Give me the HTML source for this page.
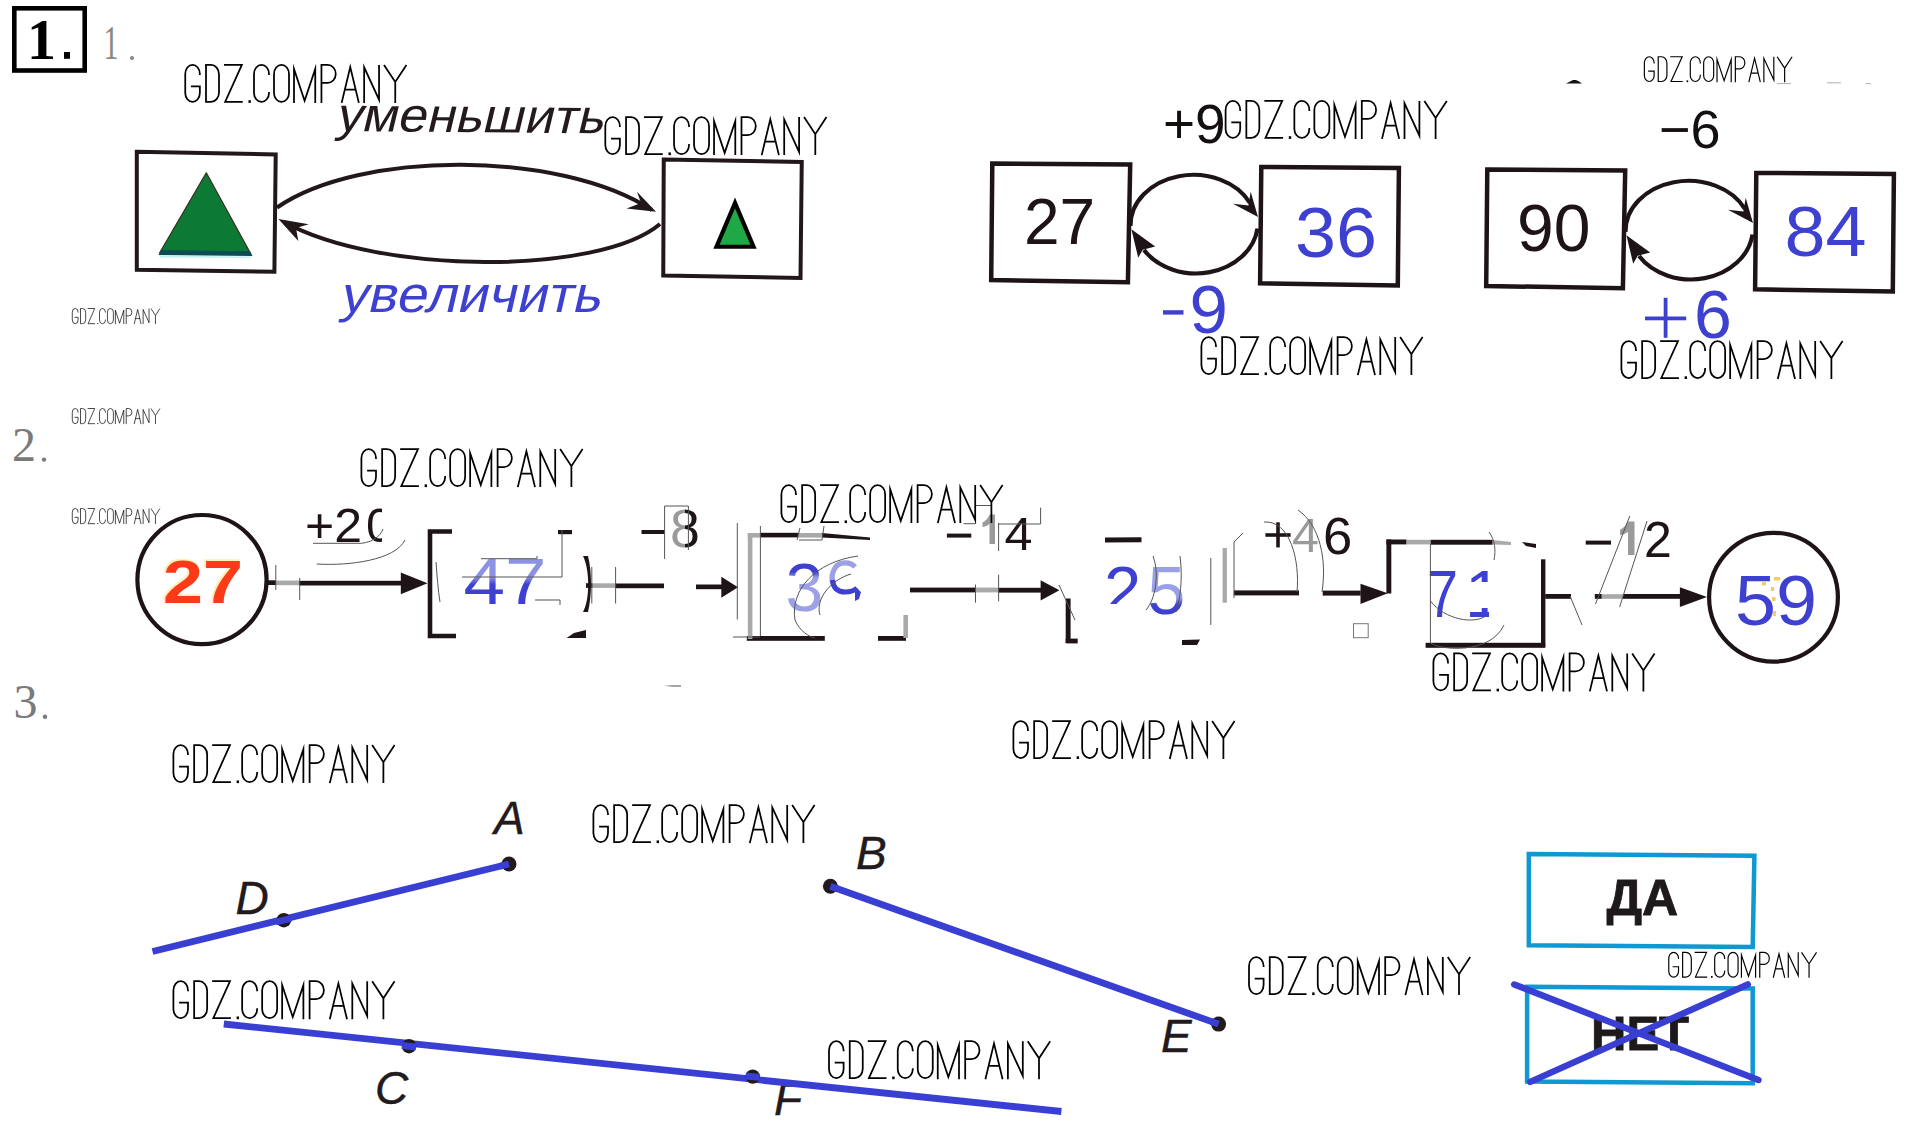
<!DOCTYPE html>
<html><head><meta charset="utf-8">
<style>
html,body{margin:0;padding:0;background:#fff;width:1919px;height:1144px;overflow:hidden}
svg{display:block}
svg{font-family:"Liberation Sans",sans-serif}
</style></head>
<body>
<svg width="1919" height="1144" viewBox="0 0 1919 1144">
<defs>
<g id="wm" fill="none" stroke="#000" stroke-width="1.75" stroke-linejoin="miter" stroke-miterlimit="8" stroke-linecap="butt">
<path d="M15.6,11 V10 A7.3,9 0 0 0 1,10 V29 A7.3,9 0 0 0 15.6,29 V22.5 H6.7"/>
<path d="M21.75,1 H26.75 A8,9.5 0 0 1 34.75,10.5 V28.5 A8,9.5 0 0 1 26.75,38 H21.75 Z"/>
<path d="M39.75,1 H57.6 L40.9,38 H58.5"/>
<rect x="64.2" y="36.3" width="2.4" height="2.7" fill="#000" stroke="none"/>
<path d="M84.75,11 V10 A7.5,9 0 0 0 69.75,10 V29 A7.5,9 0 0 0 84.75,29 V28"/>
<path d="M89.75,10 A7.5,9 0 0 1 104.75,10 V29 A7.5,9 0 0 1 89.75,29 Z"/>
<path d="M109.75,39 V5 L120.35,36.8 L131,5 V39"/>
<path d="M137.2,39 V1 H143.5 A8,9 0 0 1 151.5,10 V10 A8,9 0 0 1 143.5,19 H137.2"/>
<path d="M157.4,39 L166,3.2 L174.6,39 M160.3,25.6 H171.7"/>
<path d="M179.9,39 V3.4 L194.8,35.8 V1"/>
<path d="M199.75,1 L211,18.1 L222.2,1 M211,18.1 V39"/>
</g>
</defs>

<!-- header numbers -->
<rect x="14.3" y="8.3" width="70.4" height="62.2" fill="none" stroke="#000" stroke-width="4.6"/>
<text x="27" y="58.5" font-family="Liberation Serif" font-weight="bold" font-size="58" fill="#000">1</text><rect x="64" y="52" width="6" height="6.8" fill="#000"/>
<text x="103.5" y="59" font-family="Liberation Serif" font-size="48" fill="#888" textLength="15" lengthAdjust="spacingAndGlyphs">1</text><circle cx="132" cy="58" r="2.1" fill="#888"/>
<text x="12" y="461" font-family="Liberation Serif" font-size="48" fill="#7a7a7a">2</text><circle cx="44" cy="459.6" r="2.2" fill="#7a7a7a"/>
<text x="13.5" y="718" font-family="Liberation Serif" font-size="48" fill="#7a7a7a">3</text><circle cx="45" cy="716.8" r="2.2" fill="#7a7a7a"/>

<!-- section 1 left -->
<g fill="none" stroke="#22181a" stroke-width="4">
<path d="M136.8,151.8 L275.7,154.5 L274.4,271.7 L136.8,269.8 Z"/>
<path d="M663.75,159.5 L801.75,162 L800.5,278 L663.25,275.5 Z"/>
<path d="M277,207.5 C360,150 560,150 652,210" />
<path d="M660,224 C600,275 380,275 284,222" />
</g>
<path d="M656,211.7 L637,191.7 L641,203 L626.6,208.5 Z" fill="#22181a"/>
<path d="M278.4,219 L308.8,224.2 L296,228 L298.3,241 Z" fill="#22181a"/>
<path d="M206.3,172.8 L159.7,252.8 L250.9,254 Z" fill="#0c7a34" stroke="#3a2a20" stroke-width="1.2" stroke-linejoin="round"/>
<path d="M161,250 L250,251.2 L252.5,256 L158.5,255 Z" fill="#0b4d52"/><path d="M159,255.5 L252,256.5 L251,258 L160,257.5 Z" fill="#9be6f0" opacity="0.6"/>
<path d="M735,203 L716.5,246.75 L753.5,246.75 Z" fill="#1ea846" stroke="#000" stroke-width="4.2" stroke-linejoin="miter"/>
<g transform="translate(335,131) rotate(0.5) skewX(-13)"><text x="0" y="0" font-size="48" fill="#221a1c" textLength="268" lengthAdjust="spacingAndGlyphs">уменьшить</text></g>
<g transform="translate(339,312) skewX(-13)"><text x="0" y="0" font-size="51" fill="#3e40d0" textLength="261" lengthAdjust="spacingAndGlyphs">увеличить</text></g>


<!-- section 1 right -->
<g fill="none" stroke="#1e1418" stroke-width="4.5">
<path d="M992.3,163.5 L1130.2,164.5 L1127.9,282.2 L991.2,280 Z"/>
<path d="M1261.3,166.9 L1398.9,168 L1397.8,285.5 L1260.1,283.3 Z"/>
<path d="M1487.3,169.5 L1625.2,170.5 L1622.9,288.2 L1486.2,286 Z"/>
<path d="M1756.3,172.9 L1893.9,174 L1892.8,291.5 L1755.1,289.3 Z"/>
</g>
<g id="arcs">
<g fill="none" stroke="#1e1418" stroke-width="4.2">
<path d="M1130.5,226 A63,50.5 0 0 1 1250,203"/>
<path d="M1257.5,228.5 A62,51.5 0 0 1 1144,250"/>
</g>
<g fill="#1e1418">
<path d="M1258,217 L1250.7,191.8 L1248.4,205.5 L1233,203.75 Z"/>
<path d="M1131.4,229.3 L1155.2,246.4 L1142.7,249.8 L1138.2,257.7 Z"/>
</g>
</g>
<use href="#arcs" transform="translate(495,6)"/>
<text x="1024" y="244" font-size="64" fill="#1e1418">27</text>
<text x="1295" y="257" font-size="70" fill="#3e40d0" textLength="82" lengthAdjust="spacingAndGlyphs">36</text>
<text x="1517" y="251" font-size="66" fill="#1e1418">90</text>
<text x="1784.6" y="255.5" font-size="70" fill="#3e40d0" textLength="82" lengthAdjust="spacingAndGlyphs">84</text>
<text x="1163" y="143" font-size="55" fill="#151010">+9</text>
<rect x="1163" y="310.2" width="20.5" height="4.4" fill="#3e40d0"/><text x="1189.5" y="333" font-size="69" fill="#3e40d0">9</text>
<text x="1659" y="147.5" font-size="54" fill="#151010">−6</text>
<rect x="1645" y="316.5" width="41.2" height="3.8" fill="#3e40d0"/><rect x="1663.7" y="297.8" width="3.8" height="40" fill="#3e40d0"/><text x="1694" y="338" font-size="68" fill="#3e40d0">6</text>


<!-- section 2 -->
<defs>
<linearGradient id="g47" x1="0" y1="0" x2="0" y2="1">
<stop offset="0" stop-color="#9095e4"/><stop offset="0.45" stop-color="#8a90e2"/><stop offset="0.55" stop-color="#3e40d0"/><stop offset="1" stop-color="#3e40d0"/>
</linearGradient>
<linearGradient id="g5" x1="0" y1="0" x2="0" y2="1">
<stop offset="0" stop-color="#9aa0e6"/><stop offset="0.6" stop-color="#9aa0e6"/><stop offset="0.7" stop-color="#3e40d0"/><stop offset="1" stop-color="#3e40d0"/>
</linearGradient>
<clipPath id="c20"><rect x="300" y="495" width="82" height="60"/></clipPath>
<linearGradient id="g3" x1="0" y1="0" x2="0" y2="1"><stop offset="0" stop-color="#3e40d0"/><stop offset="0.3" stop-color="#3e40d0"/><stop offset="0.38" stop-color="#9ca0e4"/><stop offset="0.9" stop-color="#9ca0e4"/><stop offset="0.95" stop-color="#3e40d0"/></linearGradient>
</defs>
<circle cx="202" cy="579.6" r="64.6" fill="none" stroke="#1e1418" stroke-width="4.2"/>
<text x="162" y="602.3" font-weight="bold" font-size="61.5" fill="#ffd860" stroke="#ffd860" stroke-width="1.5" textLength="80" lengthAdjust="spacingAndGlyphs" opacity="0.45">27</text><text x="163" y="603.3" font-weight="bold" font-size="61.5" fill="#fa3a18" textLength="80" lengthAdjust="spacingAndGlyphs">27</text>
<circle cx="1773.5" cy="597.2" r="64.4" fill="none" stroke="#1e1418" stroke-width="4.2"/>
<text x="1735" y="624.5" font-size="69.5" fill="#3e40d0" textLength="82" lengthAdjust="spacingAndGlyphs">59</text>
<g fill="#1e1418">
<!-- arrow 1 -->
<rect x="267" y="580.3" width="9" height="4.7"/>
<rect x="299" y="580.8" width="103" height="4.7"/>
<path d="M400.8,572.5 L427.5,583.3 L400.8,594.2 Z"/>
<!-- box 47 -->
<path d="M452,529.3 H427.7 V638.2 H456 V633.8 H432.3 V533.7 H452 Z"/>
<rect x="558" y="530" width="14" height="4.2"/>
<path d="M583,556 C590,570 590,600 583,612 L588,612 C592,595 592,572 588,556 Z"/>
<path d="M566.6,638 L586,638 L586,630 L574,633 Z"/>
<!-- arrow 2 -->
<rect x="586" y="583.2" width="6.6" height="4.7"/>
<rect x="615" y="583.5" width="49" height="4.7"/>
<rect x="696" y="584.5" width="26" height="4.7"/>
<path d="M721.3,576.8 L738,587.2 L721.3,597.8 Z"/>
<!-- box 39 -->
<rect x="760" y="532.8" width="38.5" height="4.6"/>
<path d="M822,533 L870,537.5 L870,540 L822,537.6 Z"/>
<rect x="746.8" y="636" width="78" height="4.8"/>
<rect x="878" y="636" width="28" height="4.8"/>
<!-- arrow 3 -->
<rect x="910" y="587.6" width="65.5" height="4.8"/>
<rect x="998" y="587.8" width="43" height="4.8"/>
<path d="M1040.6,580.3 L1059.4,590.2 L1040.6,600.6 Z"/>
<!-- box 25 -->
<rect x="1065.7" y="598.5" width="4.9" height="44.5"/>
<rect x="1065.7" y="638.6" width="12" height="4.8"/>
<path d="M1105,537.6 L1141.5,537.2 L1141.5,542.3 L1105,542.6 Z"/>
<path d="M1182,640 L1200,639.5 L1197,645 L1182,645 Z"/>
<!-- arrow 4 -->
<rect x="1233.8" y="590.4" width="65.2" height="5"/>
<rect x="1322.7" y="590.6" width="38" height="5"/>
<path d="M1360.5,583.8 L1387.8,593.2 L1360.5,604.1 Z"/>
<!-- box 71 -->
<rect x="1386.4" y="539.5" width="20.2" height="4.9"/>
<rect x="1386.4" y="539.5" width="4.9" height="54"/>
<rect x="1430.4" y="539.8" width="62.3" height="4.9"/>
<path d="M1522,542 L1536,544 L1536,548 L1526,546 Z"/>
<rect x="1541" y="559.3" width="4.4" height="88"/>
<rect x="1425.6" y="642.8" width="119.6" height="5"/>
<!-- arrow 5 -->
<rect x="1545.2" y="594" width="25.8" height="4.8"/>
<rect x="1594.8" y="594" width="7" height="4.8"/>
<rect x="1622.8" y="594" width="58" height="4.8"/>
<path d="M1679.9,587.3 L1707,597 L1679.9,606.9 Z"/>
</g>
<g fill="#a9a9a9">
<rect x="276" y="580.6" width="23" height="4.6"/>
<rect x="592.6" y="583.3" width="22.4" height="4.6"/>
<rect x="747.8" y="533" width="4.6" height="106"/>
<rect x="747.8" y="533" width="12.2" height="4.6"/>
<rect x="798.5" y="533" width="23.5" height="4.6"/>
<rect x="903.4" y="615" width="4.6" height="23"/>
<rect x="975.5" y="587.6" width="22.5" height="4.8"/>
<rect x="1222.6" y="548" width="4.3" height="54.7"/>
<rect x="1406.6" y="539.8" width="23.8" height="4.6"/>
<path d="M1492.7,540 L1511,542 L1511,545 L1492.7,544.6 Z"/>
<rect x="1601.8" y="594.2" width="21" height="4.6"/>
</g>
<!-- labels -->
<g fill="#1e1418">
<text x="305" y="541.7" font-size="49" textLength="57" lengthAdjust="spacingAndGlyphs">+2</text>
<text x="366" y="541.7" font-size="49" clip-path="url(#c20)">0</text>
<rect x="641.5" y="530" width="23.1" height="4"/>
<text x="670" y="547.4" font-size="53.6" fill="url(#g8)">8</text>
<rect x="946.9" y="533.6" width="24.4" height="4"/>
<text x="1004.5" y="550.2" font-size="46" textLength="28" lengthAdjust="spacingAndGlyphs">4</text>
<rect x="1265.4" y="533.2" width="25.2" height="3.6"/><rect x="1276.2" y="522.3" width="3.6" height="25.1"/>
<text x="1323" y="554.4" font-size="52.6">6</text>
<rect x="1585.7" y="540.6" width="25.3" height="4"/>
<text x="1644" y="556.5" font-size="50">2</text>
</g>
<g fill="#9a9a9a">
<path d="M989.5,514.6 H995 V544 H989.5 V524 C987,526 984,527 982.5,527 V522.5 C985.5,521.5 988,518.5 989.5,514.6 Z"/>
<text x="1292" y="552.3" font-size="48.5">4</text>
<path d="M1628,521.6 H1634.5 V555 H1628 V532 C1625,534 1622,535 1620,535 V529.5 C1623.5,528.5 1626.5,525 1628,521.6 Z"/>
</g>
<text x="463.5" y="603.5" font-size="65" fill="url(#g47)" textLength="83" lengthAdjust="spacingAndGlyphs">47</text>
<text x="785.5" y="611" font-size="68" fill="url(#g3)">3</text>
<text x="1147.5" y="613.9" font-size="68" fill="url(#g5)">5</text>
<text x="1427" y="616.7" font-size="66.5" fill="#3e40d0" textLength="31" lengthAdjust="spacingAndGlyphs">7</text>


<!-- fragments & artifacts -->
<defs>
<clipPath id="c9"><polygon points="826,555 867,555 867,602 848,602 842,585 836,578 826,577"/></clipPath>
<clipPath id="c2"><rect x="1100" y="560" width="45" height="44"/></clipPath>
<clipPath id="c1"><rect x="1470" y="560" width="19" height="22"/><rect x="1470" y="608" width="19" height="10"/></clipPath>
<linearGradient id="g8" x1="0" y1="0" x2="1" y2="0"><stop offset="0" stop-color="#9a9a9a"/><stop offset="0.5" stop-color="#9a9a9a"/><stop offset="0.52" stop-color="#1e1418"/><stop offset="1" stop-color="#1e1418"/></linearGradient>
</defs>
<g fill="none" stroke-width="5.2" stroke-linecap="butt">
<path d="M855,567 C851,562 839,560.5 835,568 C832,573 831.5,578 832.5,582" stroke="#9ca0e4"/>
<path d="M832.5,580 C833,588 838,592 845,592 C851,592 855,590 857,588" stroke="#3e40d0"/>
<path d="M855,587 L861,592 L859,599 L855,601 Z" fill="#3e40d0" stroke="none"/>
</g>
<text x="1104" y="613" font-size="67" fill="#3e40d0" clip-path="url(#c2)">2</text>
<text x="1465" y="616.7" font-size="66.5" fill="#3e40d0" clip-path="url(#c1)">1</text>
<g fill="none" stroke="#555" stroke-width="1">
<path d="M313,543.3 H361.7 C372,542 380,537 383,529"/>
<path d="M316.7,564 C350,566 395,560 405,540"/>
<path d="M275.8,565 V590 M299.7,578 V600"/>
<path d="M462,577 H562 V530"/>
<path d="M481,558.7 H537 V556"/>
<path d="M436,562 C437,575 438,590 440,602"/>
<path d="M535,600 H560 V605"/>
<path d="M591.8,567 V603.5 M615.6,567 V603.5"/>
<path d="M664.6,559 V506 H688.4 V550"/>
<path d="M737.3,523 V619.5 M760.4,526 V636 M733,637 H760"/>
<path d="M797,540 L800,528 M799,540 H822 L824,526"/>
<path d="M858,556 C815,562 790,590 795,620 C800,632 810,637 815,638"/>
<path d="M851,574 C830,580 815,600 820,615"/>
<path d="M975.5,584.5 V602.7 M998.6,574.7 V601.3 M998.6,523 V551 M998.6,524 H1040.6 V507.6"/>
<path d="M963.6,523.7 H975.5 V505.5 H991"/>
<path d="M1059,585 L1075,620"/>
<path d="M1153,556 C1160,575 1155,600 1146,610 M1180,556 C1183,580 1180,600 1176,612"/>
<path d="M1210.8,558 V625"/>
<path d="M1234,598 V542 L1243,533"/>
<path d="M1264,522 C1290,520 1300,560 1297,592 M1298,510 C1320,525 1327,560 1322,592"/>
<path d="M1430.4,544 V643 C1440,650 1490,655 1504,625 M1430.4,601 C1445,620 1475,625 1487,615"/>
<path d="M1629.8,516 L1595.5,604 M1647,521 L1619.6,607 M1570,596 L1582,625"/>
<path d="M1489,532 C1495,540 1496,550 1494,560"/>
</g>
<rect x="1353.5" y="623.7" width="14.7" height="14" fill="none" stroke="#777" stroke-width="1"/>


<!-- section 3 -->
<g fill="#221a1c" stroke="#221a1c" stroke-width="0.4" font-style="italic" font-size="46">
<text x="494" y="834">A</text>
<text x="235.5" y="914">D</text>
<text x="375" y="1104">C</text>
<text x="856" y="869">B</text>
<text x="1161" y="1051.5">E</text>
<text x="774" y="1115.4">F</text>
</g>
<g stroke="#3a3fd4" stroke-width="6.8" fill="none">
<path d="M152.5,951.5 L509,864"/>
<path d="M223.8,1024 L1061.4,1111.5"/>
<path d="M830.4,886.3 L1218.6,1024.1"/>
</g>
<g fill="#221a1c">
<circle cx="283.8" cy="920.2" r="7.3"/>
<circle cx="509" cy="864" r="7.5"/>
<circle cx="409" cy="1046.2" r="7.2"/>
<circle cx="752.7" cy="1076.6" r="7.2"/>
<circle cx="830.4" cy="886.3" r="7.5"/>
<circle cx="1218.6" cy="1024.1" r="7.5"/>
</g>
<g stroke="#3a3fd4" stroke-width="6.8" fill="none">
<path d="M276,922 L291,918.5"/>
<path d="M402,1045.5 L416,1047"/>
<path d="M745.7,1076 L759.7,1077.4"/>
<path d="M509,864 L500,866.2"/>
<path d="M830.4,886.3 L838,889"/>
<path d="M1218.6,1024.1 L1211,1021.4"/>
</g>
<!-- DA / NET -->
<g fill="none" stroke="#0f98d2" stroke-width="4.5">
<path d="M1528.8,854 L1754.4,855.8 L1752.7,947 L1528.8,945.2 Z"/>
<path d="M1527.1,986.7 L1752.7,988.5 L1752.7,1083.2 L1527.1,1081.4 Z"/>
</g>
<text x="1606.5" y="915" font-weight="bold" font-size="50" fill="#1e1a1c" stroke="#1e1a1c" stroke-width="0.8">ДА</text>
<text x="1591" y="1050" font-weight="bold" font-size="49" fill="#1e1a1c" stroke="#1e1a1c" stroke-width="0.8">НЕТ</text>
<g stroke="#3a3fd4" stroke-width="6.5" fill="none" stroke-linecap="round">
<path d="M1514.2,984.5 L1758.4,1080"/>
<path d="M1530.2,1081.9 L1747.8,984.5"/>
</g>

<path d="M1566,83.5 L1570,81.5 L1573,80 L1576,80 L1579,81.5 L1582,83.5 Z" fill="#111"/>
<g stroke="#999" stroke-width="0.8"><path d="M1777,83.6 H1791 M1827,82.8 H1841 M1865.6,83.6 H1871"/></g>
<g fill="#f4c24a" opacity="0.85">
<rect x="1762" y="582" width="4" height="3.5"/><rect x="1774" y="577" width="6" height="3.5"/><rect x="1772" y="597" width="3.5" height="4"/><rect x="1773" y="611" width="3" height="5"/><rect x="1771" y="587" width="3" height="4"/>
</g>
<path d="M664,685.7 L672,685.2 L681,685.3 L681,686.8 L672,686.8 Z" fill="#888"/>
<!-- watermarks -->
<use href="#wm" transform="translate(184.25,63.9)"/>
<use href="#wm" transform="translate(604.3,116.1)"/>
<use href="#wm" transform="translate(1224.6,99.9)"/>
<use href="#wm" transform="translate(1643.7,56.1) scale(0.668)"/>
<use href="#wm" transform="translate(71.9,308.1) scale(0.396,0.41)"/>
<use href="#wm" transform="translate(71.9,408.1) scale(0.396,0.41)"/>
<use href="#wm" transform="translate(71.9,508.1) scale(0.396,0.41)"/>
<use href="#wm" transform="translate(1200.4,336.1)"/>
<use href="#wm" transform="translate(1620.4,340)"/>
<use href="#wm" transform="translate(360.4,448.1)"/>
<use href="#wm" transform="translate(780.4,484.1)"/>
<use href="#wm" transform="translate(1432.4,652.4)"/>
<use href="#wm" transform="translate(1012.4,720)"/>
<use href="#wm" transform="translate(172.4,744.1)"/>
<use href="#wm" transform="translate(592.4,804.1)"/>
<use href="#wm" transform="translate(1248,956.1)"/>
<use href="#wm" transform="translate(1668.1,951.7) scale(0.668)"/>
<use href="#wm" transform="translate(172.4,980.2)"/>
<use href="#wm" transform="translate(828,1040.2)"/>
</svg>
</body></html>
